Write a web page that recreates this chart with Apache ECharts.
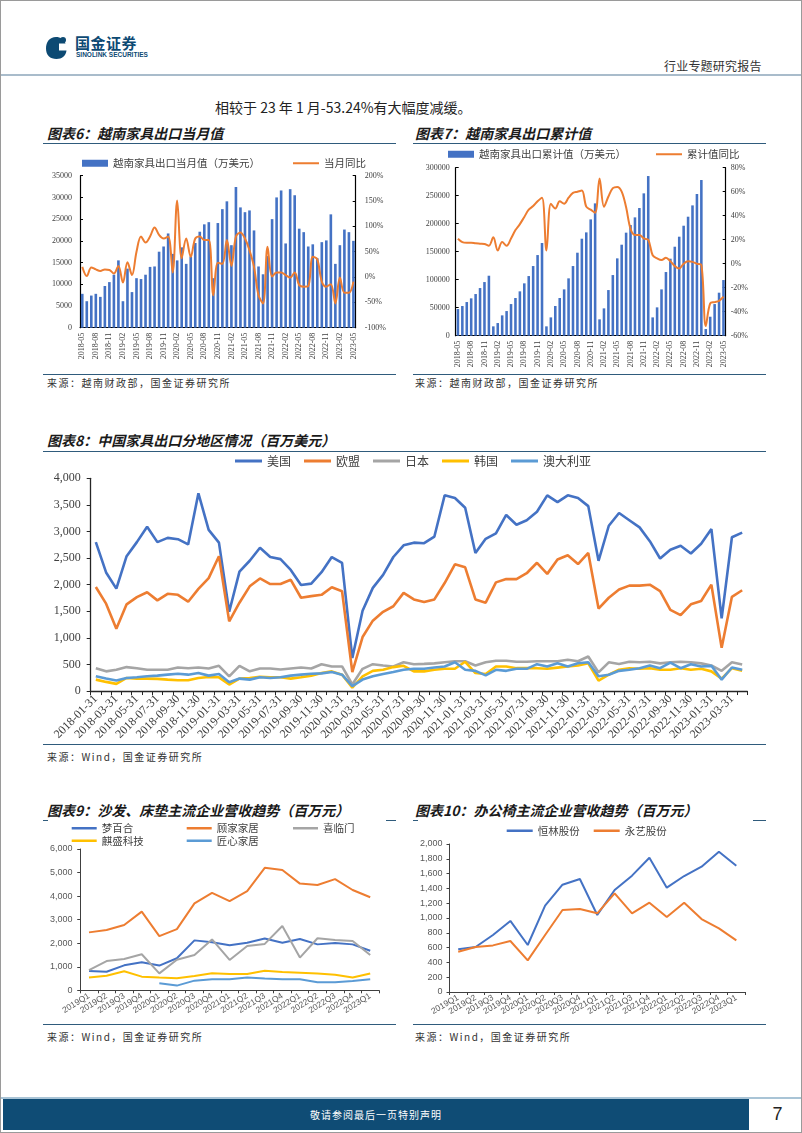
<!DOCTYPE html>
<html><head><meta charset="utf-8">
<script src="https://cdn.jsdelivr.net/npm/echarts/dist/echarts.min.js"></script>
<style>
body{margin:0;width:802px;height:1133px;position:relative;background:#fff;font-family:'Noto Sans CJK SC',sans-serif;overflow:hidden}
.frame{position:absolute;left:0;top:0;width:802px;height:1133px;box-sizing:border-box;border:1px solid #9a9a9a}
.title{position:absolute;font-size:14px;line-height:20px;font-weight:bold;font-style:italic;color:#1a1a1a;white-space:nowrap}
.rule{position:absolute;height:0;border-top:1.5px solid #2f5b7c}
.src{position:absolute;font-size:10px;line-height:14px;color:#333;letter-spacing:1.5px;white-space:nowrap}
.chart{position:absolute}
</style></head><body>
<div class="frame"></div>
<svg style="position:absolute;left:45px;top:36px" width="24" height="24" viewBox="0 0 24 24">
<path d="M11 1 C4.5 1 1 6 1 12.5 C1 19 5 23 11.5 23 C17 23 21 19.5 21.5 14.5 L14 14.5 L14 7.5 L20.5 7.5 C19 3.5 15.5 1 11 1Z" fill="#0d4a73"/>
<circle cx="18" cy="4" r="3" fill="#0d4a73"/>
</svg>
<div style="position:absolute;left:75px;top:34px;font-size:15px;line-height:18px;font-weight:bold;color:#0d4a73;letter-spacing:0.5px">国金证券</div>
<div style="position:absolute;left:76px;top:51px;font-size:6.5px;line-height:8px;font-weight:bold;color:#0d4a73;font-family:'Liberation Sans'">SINOLINK SECURITIES</div>
<div style="position:absolute;left:664px;top:57px;font-size:12px;line-height:18px;color:#333;letter-spacing:0.2px">行业专题研究报告</div>
<div style="position:absolute;left:1px;top:74px;width:800px;height:2px;background:#a9bccb"></div>
<div style="position:absolute;left:215px;top:97px;font-size:14px;line-height:20px;color:#222;white-space:nowrap">相较于 23 年 1 月-53.24%有大幅度减缓。</div>

<div class="title" style="left:47px;top:123px">图表6：越南家具出口当月值</div>
<div class="title" style="left:415px;top:123px">图表7：越南家具出口累计值</div>
<div class="rule" style="left:43px;top:143px;width:353px"></div>
<div class="rule" style="left:413px;top:143px;width:353px"></div>
<div class="chart" id="c6" style="left:40px;top:145px;width:370px;height:228px"></div>
<div class="chart" id="c7" style="left:410px;top:145px;width:360px;height:228px"></div>
<div class="rule" style="left:43px;top:374px;width:353px"></div>
<div class="rule" style="left:413px;top:374px;width:353px"></div>
<div class="src" style="left:47px;top:376px">来源：越南财政部，国金证券研究所</div>
<div class="src" style="left:415px;top:376px">来源：越南财政部，国金证券研究所</div>

<div class="title" style="left:47px;top:430px">图表8：中国家具出口分地区情况（百万美元）</div>
<div class="rule" style="left:43px;top:451px;width:723px"></div>
<div class="chart" id="c8" style="left:40px;top:452px;width:730px;height:291px"></div>
<div class="rule" style="left:43px;top:744px;width:723px"></div>
<div class="src" style="left:47px;top:750px">来源：Wind，国金证券研究所</div>

<div class="title" style="left:47px;top:800px">图表9：沙发、床垫主流企业营收趋势（百万元）</div>
<div class="title" style="left:415px;top:800px">图表10：办公椅主流企业营收趋势（百万元）</div>
<div class="rule" style="left:43px;top:820px;width:5px"></div>
<div class="rule" style="left:386px;top:820px;width:10px"></div>
<div class="rule" style="left:413px;top:820px;width:5px"></div>
<div class="rule" style="left:753px;top:820px;width:13px"></div>
<div class="chart" id="c9" style="left:47px;top:822px;width:339px;height:200px"></div>
<div class="chart" id="c10" style="left:417px;top:822px;width:336px;height:200px"></div>
<div class="rule" style="left:43px;top:1024px;width:353px"></div>
<div class="rule" style="left:413px;top:1024px;width:353px"></div>
<div class="src" style="left:47px;top:1030px">来源：Wind，国金证券研究所</div>
<div class="src" style="left:415px;top:1030px">来源：Wind，国金证券研究所</div>

<div style="position:absolute;left:1px;top:1097px;width:800px;height:2px;background:#a9c4d6"></div>
<div style="position:absolute;left:3px;top:1099px;width:746px;height:31px;background:#0f4c75;color:#fff;font-size:10px;line-height:31px;text-align:center;letter-spacing:1px">敬请参阅最后一页特别声明</div>
<div style="position:absolute;left:755px;top:1099px;width:45px;height:31px;font-size:18px;line-height:31px;text-align:center;color:#222;font-family:'Liberation Sans'">7</div>

<script>
const vnMonths = ['2018-05','2018-06','2018-07','2018-08','2018-09','2018-10','2018-11','2018-12',
'2019-01','2019-02','2019-03','2019-04','2019-05','2019-06','2019-07','2019-08','2019-09','2019-10','2019-11','2019-12',
'2020-01','2020-02','2020-03','2020-04','2020-05','2020-06','2020-07','2020-08','2020-09','2020-10','2020-11','2020-12',
'2021-01','2021-02','2021-03','2021-04','2021-05','2021-06','2021-07','2021-08','2021-09','2021-10','2021-11','2021-12',
'2022-01','2022-02','2022-03','2022-04','2022-05','2022-06','2022-07','2022-08','2022-09','2022-10','2022-11','2022-12',
'2023-01','2023-02','2023-03','2023-04','2023-05'];
const vnMonthly = [7800,6100,7400,7800,7100,9600,10500,12200,
15500,6100,13600,8200,11400,11200,12200,14000,14100,17500,18700,21700,
17000,15500,18500,14700,16400,19500,22100,23800,24300,11400,24100,27300,
29100,19000,32400,27700,26600,27000,22400,14100,12300,16500,25000,30000,
31600,19400,31900,30500,22800,22000,18700,19200,16000,19700,20100,26100,
14700,19000,22600,22000,20000];
const vnMonthlyYoY = [20,2,19,15,12,15,14,7,
22,-11,29,4,50,80,68,80,98,83,76,80,
9,151,37,76,40,76,80,73,73,-36,28,26,
73,22,80,88,76,53,20,-36,-52,60,1,9,
9,4,-1,9,-16,-19,-18,40,35,-9,-19,-14,
-52,-1,-31,-31,-9];
const vnCum = [47600,53000,60100,66700,74400,85100,95800,107100,
16700,22600,36300,44000,56500,67300,79200,93500,106500,124400,144000,165500,
16700,32700,53000,67300,82700,102400,124400,148200,173200,184500,207700,236300,
29200,48800,81500,108300,138100,162500,184000,197600,211300,228000,254200,285100,
32700,50600,82700,113700,137500,158900,176800,196400,212500,232700,253000,278000,
11900,33900,56500,76800,99400];
const vnCumYoY = [20.8,18,17.5,17.5,17,16.7,16.4,15,
22,11,18,15,21,28,33,39,45,48,52,55,
11,50,46,52,50,55,59,60,61,47.5,45,42.5,
71,47.5,56,63,64,60,47,29,24,24,21,20,
7,4.4,3,5,2,-2,-4,0,2,1.5,0,-1,
-52,-33,-32,-31,-27.5];

const cnMonths = ['2018-01-31','2018-02-28','2018-03-31','2018-04-30','2018-05-31','2018-06-30','2018-07-31','2018-08-31','2018-09-30','2018-10-31','2018-11-30','2018-12-31',
'2019-01-31','2019-02-28','2019-03-31','2019-04-30','2019-05-31','2019-06-30','2019-07-31','2019-08-31','2019-09-30','2019-10-31','2019-11-30','2019-12-31',
'2020-01-31','2020-02-29','2020-03-31','2020-04-30','2020-05-31','2020-06-30','2020-07-31','2020-08-31','2020-09-30','2020-10-31','2020-11-30','2020-12-31',
'2021-01-31','2021-02-28','2021-03-31','2021-04-30','2021-05-31','2021-06-30','2021-07-31','2021-08-31','2021-09-30','2021-10-31','2021-11-30','2021-12-31',
'2022-01-31','2022-02-28','2022-03-31','2022-04-30','2022-05-31','2022-06-30','2022-07-31','2022-08-31','2022-09-30','2022-10-31','2022-11-30','2022-12-31',
'2023-01-31','2023-02-28','2023-03-31','2023-04-30'];
const cnUS = [2800,2230,1925,2535,2800,3090,2800,2880,2855,2757,3717,3030,2790,1490,2245,2450,2695,2520,2480,2277,1995,2020,2235,2520,2410,620,1510,1940,2185,2520,2740,2790,2780,2905,3680,3630,3446,2597,2862,2966,3311,3126,3212,3372,3680,3551,3680,3630,3477,2449,3108,3348,3212,3077,2818,2492,2658,2732,2585,2769,3046,1366,2892,2978];
const cnEU = [1957,1643,1170,1630,1766,1858,1705,1828,1809,1680,1920,2123,2535,1311,1661,1969,2117,2012,2012,2092,1754,1785,1809,1951,1877,357,1015,1323,1490,1594,1846,1723,1674,1723,2031,2382,2326,1723,1662,2043,2105,2105,2215,2412,2203,2474,2554,2388,2597,1551,1754,1908,1982,1982,2000,1877,1526,1428,1631,1692,2000,812,1772,1895];
const cnJP = [430,370,400,450,430,400,400,400,443,430,443,425,474,277,474,370,425,425,406,425,443,425,505,462,462,123,418,505,480,462,541,505,510,520,540,560,560,480,540,570,570,550,550,560,560,560,590,560,650,350,540,510,550,540,550,520,540,550,540,520,480,380,540,500];
const cnKR = [215,172,135,246,234,234,228,215,203,203,246,265,258,123,234,246,270,258,258,234,258,290,338,370,308,62,277,380,400,450,474,370,370,400,420,420,550,338,320,462,462,430,430,430,418,440,462,480,523,197,308,400,430,418,430,400,400,430,400,418,370,234,430,380];
const cnAU = [277,234,197,246,258,277,290,308,326,308,338,290,320,166,234,215,258,246,258,290,308,326,332,357,308,92,215,277,320,357,400,418,418,443,462,541,400,380,295,400,380,418,418,505,462,523,462,523,541,277,308,380,400,430,480,430,535,430,505,462,474,215,443,400];

const quarters = ['2019Q1','2019Q2','2019Q3','2019Q4','2020Q1','2020Q2','2020Q3','2020Q4','2021Q1','2021Q2','2021Q3','2021Q4','2022Q1','2022Q2','2022Q3','2022Q4','2023Q1'];
const mengbaihe = [820,790,1060,1190,1050,1360,2120,2040,1910,2020,2200,2020,2180,1950,2010,1950,1680];
const gujia = [2460,2560,2770,3340,2300,2600,3690,4140,3790,4210,5200,5110,4530,4470,4720,4260,3950];
const xilinmen = [860,1240,1330,1530,720,1300,1500,2160,1290,1880,1970,2730,1390,2210,2140,2090,1500];
const qisheng = [540,620,810,580,540,510,610,720,690,690,830,780,750,710,660,540,710];
const jiangxin = [null,null,null,null,300,200,410,470,470,540,500,470,470,340,340,400,470];
const henglin = [577,608,770,960,635,1167,1450,1527,1040,1378,1572,1815,1410,1567,1694,1896,1707];
const yongyi = [545,608,630,689,428,770,1108,1122,1063,1333,1063,1207,1013,1207,986,860,698];

const serif = 'Liberation Serif', sans = 'Liberation Sans', cjk = 'Noto Sans CJK SC';
const BLUE='#4472c4', ORANGE='#ed7d31', GRAY='#a5a5a5', GOLD='#ffc000', LBLUE='#5b9bd5';
const thou = v => v.toLocaleString('en-US');
const plain = v => String(v);

// legend icon: a horizontal stroke of thickness t centred in a w x h box
function lineIcon(w, h, t){
  const a = (h - t) / 2, b = (h + t) / 2;
  return 'path://M0,0L0.01,0L0.01,0.01Z M0,' + a + 'H' + w + 'V' + b + 'H0Z M' + (w - 0.01) + ',' + h + 'L' + w + ',' + h + 'L' + w + ',' + (h - 0.01) + 'Z';
}

function init(id){ return echarts.init(document.getElementById(id), null, {renderer:'canvas'}); }

function dualOpt(o){
  return {
    animation:false,
    legend:{left:o.legLeft, top:o.legTop, padding:0, itemWidth:26, itemHeight:7, itemGap:o.legGap,
      textStyle:{fontFamily:cjk, fontSize:10.5, color:'#404040'},
      data:[{name:o.barName, icon:'rect'}, {name:o.lineName, icon:lineIcon(26, 7, 2.2)}]},
    grid:o.grid,
    xAxis:{type:'category', data:vnMonths, boundaryGap:true,
      axisLine:{lineStyle:{color:'#000', width:1}}, axisTick:{show:false},
      axisLabel:{interval:2, rotate:90, fontFamily:serif, fontSize:8, color:'#404040', margin:5}},
    yAxis:[
      {type:'value', min:0, max:o.lmax, interval:o.lint, position:'left',
       axisLine:{show:true, lineStyle:{color:'#000', width:1.2}},
       axisTick:{show:true, inside:true, length:3, lineStyle:{color:'#000'}},
       splitLine:{show:false},
       axisLabel:{formatter:plain, fontFamily:serif, fontSize:8, color:'#404040', margin:o.lmargin}},
      {type:'value', min:o.rmin, max:o.rmax, interval:o.rint, position:'right',
       axisLine:{show:true, lineStyle:{color:'#000', width:1.2}},
       axisTick:{show:true, inside:true, length:3, lineStyle:{color:'#000'}},
       splitLine:{show:false},
       axisLabel:{formatter:'{value}%', fontFamily:serif, fontSize:8, color:'#404040', margin:o.rmargin}}
    ],
    series:[
      {name:o.barName, type:'bar', data:o.bars, barWidth:'58%', itemStyle:{color:BLUE}},
      {name:o.lineName, type:'line', yAxisIndex:1, data:o.line, smooth:0.35, symbol:'none',
       lineStyle:{color:ORANGE, width:2}, itemStyle:{color:ORANGE}}
    ]
  };
}

init('c6').setOption(dualOpt({
  legLeft:42, legTop:13, legGap:33,
  barName:'越南家具出口当月值（万美元）', lineName:'当月同比',
  grid:{left:40, right:54.3, top:30.7, bottom:45.3},
  lmax:35000, lint:5000, lmargin:8, rmin:-100, rmax:200, rint:50, rmargin:9,
  bars:vnMonthly, line:vnMonthlyYoY
}));

init('c7').setOption(dualOpt({
  legLeft:38, legTop:4, legGap:30,
  barName:'越南家具出口累计值（万美元）', lineName:'累计值同比',
  grid:{left:45.7, right:44.3, top:22.7, bottom:37.3},
  lmax:300000, lint:50000, lmargin:6, rmin:-60, rmax:80, rint:20, rmargin:5,
  bars:vnCum, line:vnCumYoY
}));

function ln(name, data, color, w){
  return {name:name, type:'line', data:data, symbol:'none', lineStyle:{color:color, width:w}, itemStyle:{color:color}, connectNulls:false};
}
function legItems(names, w, h, t){
  return names.map(n => ({name:n, icon:lineIcon(w, h, t)}));
}

init('c8').setOption({
  animation:false,
  legend:{left:195, top:3, padding:0, itemWidth:27, itemHeight:8, itemGap:13,
    textStyle:{fontFamily:cjk, fontSize:12, color:'#404040'},
    data:legItems(['美国','欧盟','日本','韩国','澳大利亚'], 27, 8, 2.8)},
  grid:{left:50.7, right:22.7, top:26.3, bottom:48},
  xAxis:{type:'category', data:cnMonths, boundaryGap:true,
    axisLine:{lineStyle:{color:'#262626', width:1.3}},
    axisTick:{show:true, interval:0, length:4, lineStyle:{color:'#262626'}},
    axisLabel:{interval:1, rotate:45, fontFamily:serif, fontSize:12, color:'#404040', margin:6}},
  yAxis:{type:'value', min:0, max:4000, interval:500,
    axisLine:{show:true, lineStyle:{color:'#262626', width:1.3}},
    axisTick:{show:true, length:4, lineStyle:{color:'#262626'}},
    splitLine:{show:false},
    axisLabel:{formatter:thou, fontFamily:serif, fontSize:12, color:'#404040', margin:10}},
  series:[
    ln('美国', cnUS, BLUE, 2.6), ln('欧盟', cnEU, ORANGE, 2.6), ln('日本', cnJP, GRAY, 2.6),
    ln('韩国', cnKR, GOLD, 2.6), ln('澳大利亚', cnAU, LBLUE, 2.6)
  ]
});

function quarterAxis(rot){
  return {type:'category', data:quarters, boundaryGap:true,
    axisLine:{lineStyle:{color:'#404040', width:1}},
    axisTick:{show:true, interval:0, length:3, lineStyle:{color:'#404040'}},
    axisLabel:{interval:0, rotate:rot, fontFamily:sans, fontSize:8.5, color:'#595959', margin:5}};
}
function valAxis(max, int, margin){
  return {type:'value', min:0, max:max, interval:int,
    axisLine:{show:true, lineStyle:{color:'#404040', width:1}},
    axisTick:{show:true, length:3, lineStyle:{color:'#404040'}},
    splitLine:{show:false},
    axisLabel:{formatter:thou, fontFamily:sans, fontSize:9, color:'#595959', margin:margin}};
}
function leg(name, left, top){
  return {left:left, top:top, padding:0, itemWidth:25, itemHeight:8, data:legItems([name], 25, 8, 2.4),
    textStyle:{fontFamily:cjk, fontSize:10.5, color:'#404040'}};
}

init('c9').setOption({
  animation:false,
  legend:[leg('梦百合',24.7,1), leg('顾家家居',139.7,1), leg('喜临门',246,1), leg('麒盛科技',24.7,13.5), leg('匠心家居',139.7,13.5)],
  grid:{left:29.7, right:7, top:27, bottom:31.7},
  xAxis:quarterAxis(32),
  yAxis:valAxis(6000, 1000, 7.7),
  series:[ln('梦百合', mengbaihe, BLUE, 2), ln('顾家家居', gujia, ORANGE, 2), ln('喜临门', xilinmen, GRAY, 2),
          ln('麒盛科技', qisheng, GOLD, 2), ln('匠心家居', jiangxin, LBLUE, 2)]
});

init('c10').setOption({
  animation:false,
  legend:{left:89.7, top:3.5, padding:0, itemWidth:26, itemHeight:8, itemGap:14,
    textStyle:{fontFamily:cjk, fontSize:10.5, color:'#404040'},
    data:legItems(['恒林股份','永艺股份'], 26, 8, 2.4)},
  grid:{left:27.3, right:8, top:22, bottom:30},
  xAxis:quarterAxis(30),
  yAxis:valAxis(2000, 200, 7),
  series:[ln('恒林股份', henglin, BLUE, 2), ln('永艺股份', yongyi, ORANGE, 2)]
});
</script>
</body></html>
